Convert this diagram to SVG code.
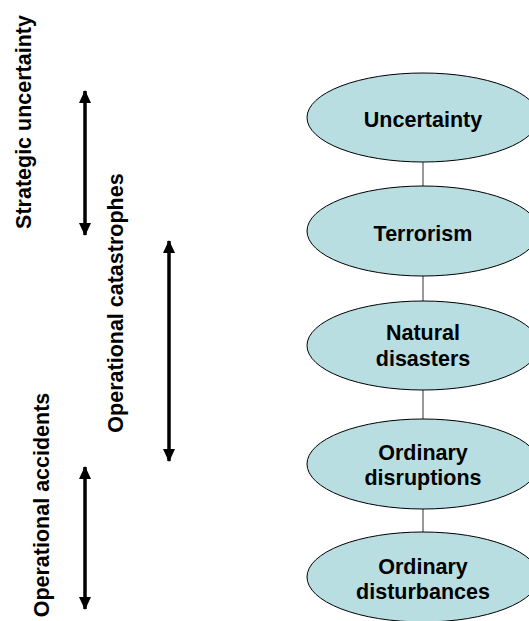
<svg xmlns="http://www.w3.org/2000/svg" width="529" height="621" viewBox="0 0 529 621">
<style>
.n{fill:#B8DEE2;stroke:#000;stroke-width:1}
.t{font-family:"Liberation Sans",Arial,sans-serif;font-weight:bold;font-size:21.5px;fill:#000;text-anchor:middle}
.c{stroke:#555;stroke-width:1.2;fill:none}
.a{stroke:#000;stroke-width:3.5;fill:none;marker-start:url(#h);marker-end:url(#h)}
</style>
<defs>
<marker id="h" markerUnits="userSpaceOnUse" markerWidth="13" markerHeight="12" refX="12" refY="6" orient="auto-start-reverse" viewBox="0 0 13 12">
<path d="M0,0 L13,6 L0,12 Z" fill="#000"/>
</marker>
</defs>
<rect width="529" height="621" fill="#fff"/>
<g id="connectors">
<line class="c" x1="423" y1="162" x2="423" y2="186"/>
<line class="c" x1="423" y1="276" x2="423" y2="301"/>
<line class="c" x1="423" y1="390" x2="423" y2="419"/>
<line class="c" x1="423" y1="509" x2="423" y2="532"/>
<line class="a" x1="85" y1="91" x2="85" y2="235"/>
<line class="a" x1="169" y1="241" x2="169" y2="461"/>
<line class="a" x1="85" y1="467" x2="85" y2="609"/>
</g>
<g id="label-strategic"><text class="t" transform="translate(31,122) rotate(-90)">Strategic uncertainty</text></g>
<g id="label-catastrophes"><text class="t" transform="translate(123,303) rotate(-90)">Operational catastrophes</text></g>
<g id="label-accidents"><text class="t" transform="translate(49,505) rotate(-90)">Operational accidents</text></g>
<g id="uncertainty"><ellipse class="n" cx="423" cy="117.5" rx="116" ry="44.5"/><text class="t" x="423" y="127">Uncertainty</text></g>
<g id="terrorism"><ellipse class="n" cx="423" cy="231" rx="116" ry="45"/><text class="t" x="423" y="241">Terrorism</text></g>
<g id="natural-disasters"><ellipse class="n" cx="423" cy="345.5" rx="116" ry="44.5"/><text class="t" x="423" y="340">Natural</text><text class="t" x="423" y="366">disasters</text></g>
<g id="ordinary-disruptions"><ellipse class="n" cx="423" cy="464" rx="116" ry="45"/><text class="t" x="423" y="460">Ordinary</text><text class="t" x="423" y="485">disruptions</text></g>
<g id="ordinary-disturbances"><ellipse class="n" cx="423" cy="577" rx="116" ry="45"/><text class="t" x="423" y="574">Ordinary</text><text class="t" x="423" y="599">disturbances</text></g>
</svg>
